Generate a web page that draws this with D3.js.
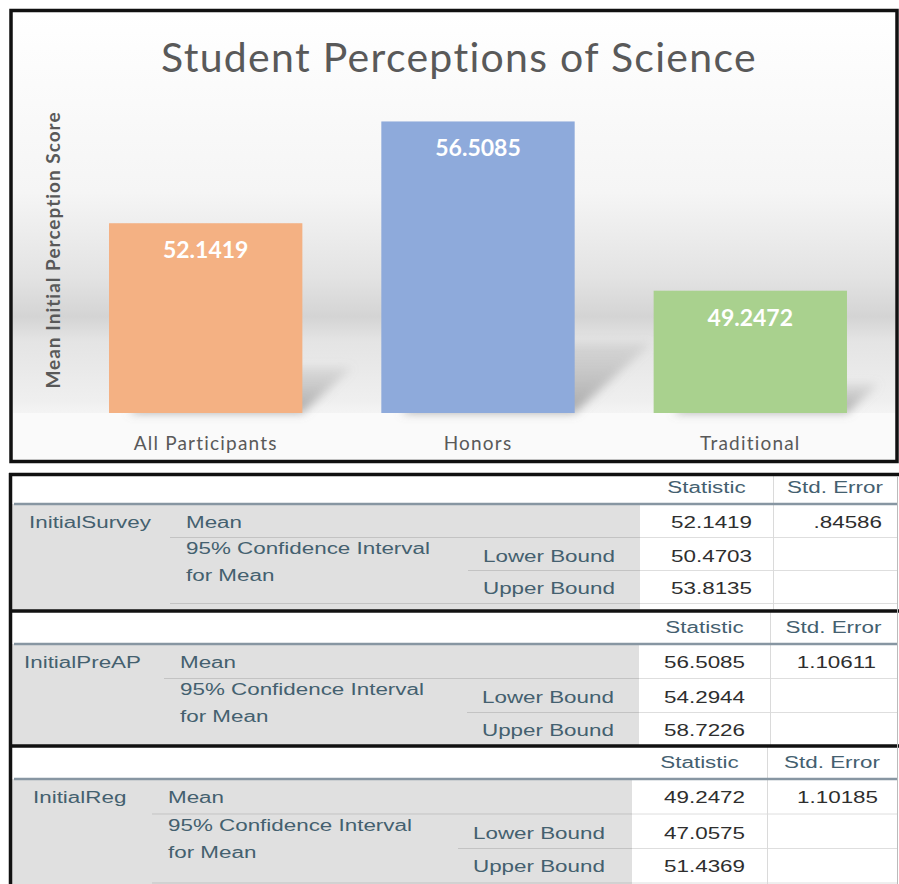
<!DOCTYPE html>
<html>
<head>
<meta charset="utf-8">
<script src="https://cdn.jsdelivr.net/npm/d3@7"></script>
<style>
  body { margin: 0; background: #fff; }
  svg { display: block; }
</style>
</head>
<body>
<div id="chart"></div>
<script>
// Chart data
var categories = ["All Participants", "Honors", "Traditional"];
var meanScores = [52.1419, 56.5085, 49.2472];

// Table data (SPSS descriptives)
var tableGroups = ["InitialSurvey", "InitialPreAP", "InitialReg"];
var stdErrors = [".84586", "1.10611", "1.10185"];
var lowerBounds = [50.4703, 54.2944, 47.0575];
var upperBounds = [53.8135, 58.7226, 51.4369];
var headerLabels = ["Statistic", "Std. Error"];
var boundLabels = ["Lower Bound", "Upper Bound"];

var barColors = ["#f4b183", "#8eaadb", "#a9d18e"];
var fmt = d3.format(".4f");

var W = 899, H = 884;
var svg = d3.select("#chart").append("svg")
  .attr("width", W)
  .attr("height", H);

var defs = svg.append("defs");

// background of the chart panel
var bg = defs.append("linearGradient")
  .attr("id", "panelBg")
  .attr("gradientUnits", "userSpaceOnUse")
  .attr("x1", 0).attr("y1", 12).attr("x2", 0).attr("y2", 413);
[[0, "#ffffff"], [0.45, "#f5f5f5"], [0.66, "#e3e3e3"], [0.76, "#d4d4d4"], [0.82, "#e4e4e4"], [0.97, "#efefef"], [1, "#f4f4f4"]]
  .forEach(function(s) {
    bg.append("stop").attr("offset", s[0]).attr("stop-color", s[1]);
  });

defs.append("filter")
  .attr("id", "blur")
  .attr("x", "-50%").attr("y", "-50%").attr("width", "200%").attr("height", "200%")
  .append("feGaussianBlur").attr("stdDeviation", 5);

var shadowGrad = defs.append("linearGradient")
  .attr("id", "shadowGrad")
  .attr("x1", 0).attr("y1", 1).attr("x2", 0).attr("y2", 0);
shadowGrad.append("stop").attr("offset", 0).attr("stop-color", "#808080").attr("stop-opacity", 0.65);
shadowGrad.append("stop").attr("offset", 1).attr("stop-color", "#999999").attr("stop-opacity", 0.2);

defs.append("clipPath").attr("id", "panelClip")
  .append("rect").attr("x", 13).attr("y", 12).attr("width", 882).attr("height", 448);

// ---------- Chart panel ----------
var panel = svg.append("g");

panel.append("rect")
  .attr("x", 11).attr("y", 10.5)
  .attr("width", 886).attr("height", 451)
  .attr("fill", "#fafafa");

panel.append("rect")
  .attr("x", 13).attr("y", 12)
  .attr("width", 882).attr("height", 401)
  .attr("fill", "url(#panelBg)");

var x = d3.scaleBand()
  .domain(categories)
  .range([60, 896])
  .paddingInner(0.29)
  .paddingOuter(0.18);

var y = d3.scaleLinear()
  .domain([44, 57])
  .range([413, 110]);

var base = y.range()[0];

// perspective shadows
panel.append("g")
  .attr("clip-path", "url(#panelClip)")
  .selectAll("polygon")
  .data(meanScores)
  .enter()
  .append("polygon")
  .attr("points", function(d, i) {
    var x0 = x(categories[i]) + 20;
    var x1 = x(categories[i]) + x.bandwidth();
    var h = (base - y(d)) * 0.24;
    var k = 1.1;
    return [[x0, base], [x1, base], [x1 + k * h, base - h], [x0 + k * h, base - h]].join(" ");
  })
  .attr("fill", "url(#shadowGrad)")
  .attr("filter", "url(#blur)");

// bars
panel.selectAll(".bar")
  .data(meanScores)
  .enter()
  .append("rect")
  .classed("bar", true)
  .attr("x", function(d, i) { return x(categories[i]); })
  .attr("y", function(d) { return y(d); })
  .attr("width", x.bandwidth())
  .attr("height", function(d) { return base - y(d); })
  .attr("fill", function(d, i) { return barColors[i]; });

// value labels
panel.selectAll(".value")
  .data(meanScores)
  .enter()
  .append("text")
  .classed("value", true)
  .attr("x", function(d, i) { return x(categories[i]) + x.bandwidth() / 2; })
  .attr("y", function(d) { return y(d) + 35; })
  .attr("text-anchor", "middle")
  .style("font-family", "Lato, sans-serif")
  .style("font-weight", "bold")
  .style("font-size", "23px")
  .style("fill", "#ffffff")
  .text(function(d) { return fmt(d); });

// category axis
var xAxis = d3.axisBottom(x).tickSize(0).tickPadding(0);
var xg = panel.append("g")
  .attr("transform", "translate(0," + base + ")")
  .call(xAxis);
xg.select(".domain").remove();
xg.selectAll("text")
  .attr("y", 37)
  .attr("dy", 0)
  .style("font-family", "Lato, sans-serif")
  .style("font-size", "19px")
  .style("letter-spacing", "1.2px")
  .style("fill", "#595959");

// title
panel.append("text")
  .attr("x", 459)
  .attr("y", 72)
  .attr("text-anchor", "middle")
  .style("font-family", "Lato, sans-serif")
  .style("font-size", "41px")
  .style("letter-spacing", "1.3px")
  .style("fill", "#595959")
  .text("Student Perceptions of Science");

// y axis title
panel.append("text")
  .attr("transform", "translate(60,250) rotate(-90)")
  .attr("text-anchor", "middle")
  .style("font-family", "Lato, sans-serif")
  .style("font-weight", "bold")
  .style("font-size", "19px")
  .style("letter-spacing", "1px")
  .style("fill", "#595959")
  .text("Mean Initial Perception Score");

panel.append("rect")
  .attr("x", 11).attr("y", 10.5)
  .attr("width", 886).attr("height", 451)
  .attr("fill", "none")
  .attr("stroke", "#111")
  .attr("stroke-width", 3.5);

// ---------- Tables ----------
var blockLayout = [
  {top: 475, bottom: 611, hdr: 504, rowH: 33, groupX: 29, meanX: 186, boundX: 483, grayEnd: 640, divX: 773, statX: 752, seX: 882},
  {top: 611, bottom: 746, hdr: 644, rowH: 34, groupX: 24, meanX: 180, boundX: 482, grayEnd: 639, divX: 770, statX: 745, seX: 876},
  {top: 746, bottom: 884, hdr: 779, rowH: 34.5, groupX: 33, meanX: 168, boundX: 473, grayEnd: 632, divX: 767, statX: 745, seX: 878}
];

var labelColor = "#44606f";
var valueColor = "#2e2e2e";
var rightEdge = 897;

function cellText(g, str, tx, ty, anchor, color) {
  g.append("text")
    .attr("transform", "translate(" + tx + "," + ty + ") scale(1.4,1)")
    .attr("text-anchor", anchor)
    .style("font-family", "'Liberation Sans', Arial, sans-serif")
    .style("font-size", "16px")
    .style("fill", color)
    .text(str);
}

function hLine(g, x0, x1, yy, color, w) {
  g.append("line")
    .attr("x1", x0).attr("x2", x1)
    .attr("y1", yy).attr("y2", yy)
    .attr("stroke", color)
    .attr("stroke-width", w || 1);
}

tableGroups.forEach(function(name, i) {
  var L = blockLayout[i];
  var g = svg.append("g");
  var r0 = L.hdr, r1 = L.hdr + L.rowH, r2 = L.hdr + 2 * L.rowH, r3 = L.hdr + 3 * L.rowH;

  g.append("rect")
    .attr("x", 12).attr("y", L.top)
    .attr("width", rightEdge - 12).attr("height", L.bottom - L.top)
    .attr("fill", "#ffffff");

  g.append("rect")
    .attr("x", 12).attr("y", r0)
    .attr("width", L.grayEnd - 12).attr("height", L.bottom - r0)
    .attr("fill", "#e0e0e0");

  // row separators
  [[L.meanX - 16, r1], [L.boundX - 15, r2], [L.meanX - 16, r3]].forEach(function(s) {
    if (s[1] > H) return;
    hLine(g, s[0], L.grayEnd, s[1] + 0.5, "#c3c3c3");
    hLine(g, L.grayEnd, rightEdge, s[1] + 0.5, "#dedede");
  });

  // column divider
  g.append("line")
    .attr("x1", L.divX + 0.5).attr("x2", L.divX + 0.5)
    .attr("y1", L.top).attr("y2", L.bottom)
    .attr("stroke", "#dadada");

  // header line
  hLine(g, 14, rightEdge, L.hdr, "#8796a2", 2.5);

  // header labels
  cellText(g, headerLabels[0], (L.grayEnd + L.divX) / 2, L.hdr - 11.5, "middle", labelColor);
  cellText(g, headerLabels[1], (L.divX + rightEdge) / 2, L.hdr - 11.5, "middle", labelColor);

  // row labels
  cellText(g, name, L.groupX, r0 + 24, "start", labelColor);
  cellText(g, "Mean", L.meanX, r0 + 24, "start", labelColor);
  cellText(g, "95% Confidence Interval", L.meanX, r1 + 17, "start", labelColor);
  cellText(g, "for Mean", L.meanX, r1 + 44, "start", labelColor);
  cellText(g, boundLabels[0], L.boundX, r1 + 25, "start", labelColor);
  cellText(g, boundLabels[1], L.boundX, r2 + 24, "start", labelColor);

  // values
  cellText(g, fmt(meanScores[i]), L.statX, r0 + 24, "end", valueColor);
  cellText(g, stdErrors[i], L.seX, r0 + 24, "end", valueColor);
  cellText(g, fmt(lowerBounds[i]), L.statX, r1 + 25, "end", valueColor);
  cellText(g, fmt(upperBounds[i]), L.statX, r2 + 24, "end", valueColor);
});

// black frame of the tables
var frame = svg.append("g");
[474.5, 611, 746].forEach(function(yy) {
  hLine(frame, 9, W, yy, "#111", 3.5);
});
frame.append("line")
  .attr("x1", 10.5).attr("x2", 10.5)
  .attr("y1", 473).attr("y2", H)
  .attr("stroke", "#111")
  .attr("stroke-width", 3.5);
frame.append("line")
  .attr("x1", 897.5).attr("x2", 897.5)
  .attr("y1", 476).attr("y2", H)
  .attr("stroke", "#bbbbbb");
</script>
</body>
</html>
